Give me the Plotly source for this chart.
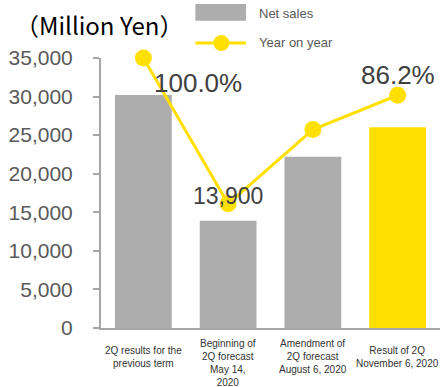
import plotly.graph_objects as go

# Categories (multi-line tick text), net sales (million yen) and year-on-year ratio (%)
categories = [
    "2Q results for the<br>previous term",
    "Beginning of<br>2Q forecast<br>May 14,<br>2020",
    "Amendment of<br>2Q forecast<br>August 6, 2020",
    "Result of 2Q<br>November 6, 2020",
]
net_sales = [30200, 13900, 22200, 26030]
year_on_year = [100.0, 46.0, 73.5, 86.2]
bar_colors = ["#ADADAD", "#ADADAD", "#ADADAD", "#FFE000"]
y_ticks = [0, 5000, 10000, 15000, 20000, 25000, 30000, 35000]

GRAY = "#ADADAD"
YELLOW = "#FFE000"
AXIS = "#A6A6A6"
TEXT = "#595959"
W, H = 442, 387
L, R, T, B = 100.5, 2, 58.3, 58.7

x = list(range(len(categories)))

fig = go.Figure()
fig.add_trace(go.Bar(
    x=x, y=net_sales, marker=dict(color=bar_colors, line=dict(width=0)),
    width=0.67, name="Net sales", showlegend=False,
))
fig.add_trace(go.Scatter(
    x=x, y=year_on_year, yaxis="y2", mode="lines+markers",
    line=dict(color=YELLOW, width=3), marker=dict(color=YELLOW, size=17),
    cliponaxis=False, name="Year on year", showlegend=False,
))

annotations = []
# value labels
annotations.append(dict(x=x[0], y=year_on_year[0], xref="x", yref="y2",
                        text=f"{year_on_year[0]:.1f}%", showarrow=False,
                        xshift=55, yshift=-25,
                        font=dict(family="Liberation Sans", size=26, color="#404040")))
annotations.append(dict(x=x[3], y=year_on_year[3], xref="x", yref="y2",
                        text=f"{year_on_year[3]:.1f}%", showarrow=False,
                        yshift=20,
                        font=dict(family="Liberation Sans", size=26, color="#404040")))
annotations.append(dict(x=x[1], y=net_sales[1], xref="x", yref="y",
                        text=f"{net_sales[1]:,}", showarrow=False,
                        yshift=25,
                        font=dict(family="Liberation Sans", size=23, color="#404040")))

# category labels below the axis
line_h = 13
for xi, cat in zip(x, categories):
    n = cat.count("<br>") + 1
    top = 357 - min(n, 3) * line_h / 2
    annotations.append(dict(x=xi, y=0, xref="x", yref="paper", yanchor="top",
                            text=cat, showarrow=False, align="center",
                            borderpad=0, yshift=-(top - (H - B)),
                            font=dict(family="Liberation Sans", size=10, color="#333333")))

# unit title
annotations.append(dict(x=-L / (W - L - R) + 12 / (W - L - R), y=1, xref="paper", yref="paper",
                        xanchor="left", yanchor="middle", yshift=T - 25,
                        text="（Million Yen）", showarrow=False,
                        font=dict(family="Noto Sans CJK JP", size=24, color="#000000")))

# legend
pw, ph = W - L - R, H - T - B
def px(xp):
    return (xp - L) / pw
def py(yp):
    return (H - B - yp) / ph

shapes = [
    dict(type="rect", xref="paper", yref="paper", x0=px(195), x1=px(245.7),
         y0=py(21), y1=py(4.3), fillcolor=GRAY, line=dict(width=0)),
    dict(type="line", xref="paper", yref="paper", x0=px(195), x1=px(245.7),
         y0=py(43.3), y1=py(43.3), line=dict(color=YELLOW, width=3)),
    dict(type="circle", xref="paper", yref="paper", x0=px(213), x1=px(229),
         y0=py(51.3), y1=py(35.3), fillcolor=YELLOW, line=dict(width=0)),
]
annotations.append(dict(x=px(257), y=py(14), xref="paper", yref="paper",
                        xanchor="left", yanchor="middle", text="Net sales", showarrow=False,
                        font=dict(family="Liberation Sans", size=13, color=TEXT)))
annotations.append(dict(x=px(257), y=py(43.3), xref="paper", yref="paper",
                        xanchor="left", yanchor="middle", text="Year on year", showarrow=False,
                        font=dict(family="Liberation Sans", size=13, color=TEXT)))

fig.update_layout(
    width=W, height=H,
    margin=dict(l=L, r=R, t=T, b=B, pad=0),
    plot_bgcolor="white", paper_bgcolor="white",
    showlegend=False,
    bargap=0.33,
    xaxis=dict(range=[-0.5, 3.5], showticklabels=False, ticks="", showgrid=False,
               zeroline=False, showline=True, linecolor=AXIS, linewidth=2, fixedrange=True),
    yaxis=dict(range=[0, 35000], tickvals=y_ticks, tickformat=",d", showgrid=False,
               zeroline=False, showline=True, linecolor=AXIS, linewidth=2,
               ticks="outside", ticklen=6, tickwidth=2, tickcolor=AXIS,
               ticklabelstandoff=16,
               tickfont=dict(family="Liberation Sans", size=21, color=TEXT)),
    yaxis2=dict(range=[0, 100], overlaying="y", visible=False),
    annotations=annotations,
    shapes=shapes,
)

fig.write_html("out.html")
